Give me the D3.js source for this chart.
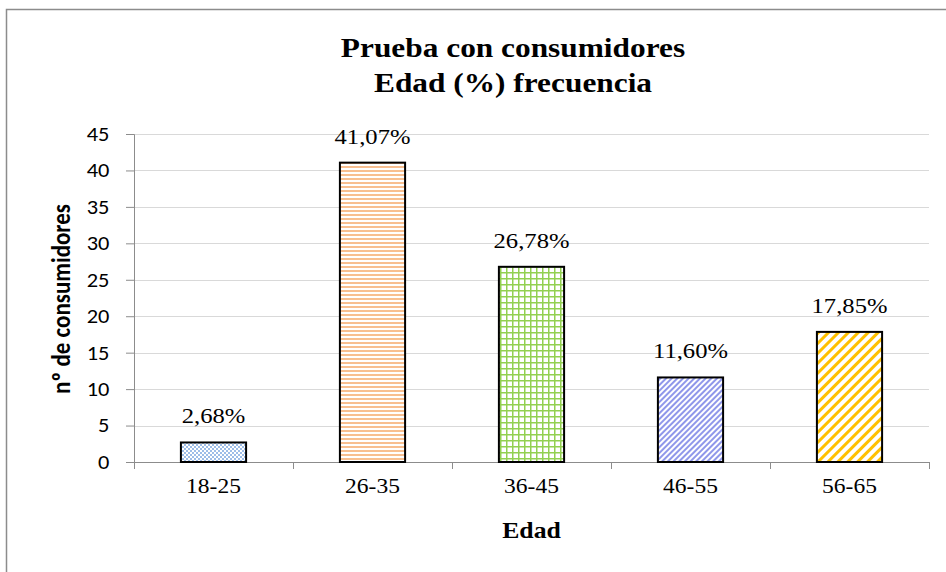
<!DOCTYPE html>
<html>
<head>
<meta charset="utf-8">
<script src="https://cdn.jsdelivr.net/npm/d3@7"></script>
<style>
  body { margin: 0; background: #fff; }
</style>
</head>
<body>
<svg width="946" height="572"></svg>
<script>
// data
var categories = ["18-25", "26-35", "36-45", "46-55", "56-65"];
var values = [2.68, 41.07, 26.78, 11.60, 17.85];
var valueLabels = ["2,68%", "41,07%", "26,78%", "11,60%", "17,85%"];
var yTicks = [0, 5, 10, 15, 20, 25, 30, 35, 40, 45];

var svg = d3.select("svg"),
    margin = {top: 134, right: 17, bottom: 110, left: 134},
    width = +svg.attr("width") - margin.left - margin.right,
    height = +svg.attr("height") - margin.top - margin.bottom;

var SERIF = "Liberation Serif",
    SANS = "Carlito",
    sx = 1.12; // the picture is a bit wider than tall

// outer frame (runs off right and bottom)
svg.append("rect")
    .attr("x", 6.5).attr("y", 9.5)
    .attr("width", 960).attr("height", 600)
    .attr("fill", "none")
    .attr("stroke", "#8c8c8c")
    .attr("stroke-width", 1.5);

// patterns
var defs = svg.append("defs");

var p0 = defs.append("pattern").attr("id", "p0")
    .attr("patternUnits", "userSpaceOnUse").attr("width", 4).attr("height", 4);
p0.append("rect").attr("width", 4).attr("height", 4).attr("fill", "#fff");
p0.append("rect").attr("width", 2).attr("height", 2).attr("fill", "#9dbde8");
p0.append("rect").attr("x", 2).attr("y", 2).attr("width", 2).attr("height", 2).attr("fill", "#9dbde8");

var p1 = defs.append("pattern").attr("id", "p1")
    .attr("patternUnits", "userSpaceOnUse").attr("width", 4).attr("height", 4);
p1.append("rect").attr("width", 4).attr("height", 4).attr("fill", "#fff");
p1.append("rect").attr("width", 4).attr("height", 2).attr("fill", "#f8bf90");

var p2 = defs.append("pattern").attr("id", "p2")
    .attr("patternUnits", "userSpaceOnUse").attr("width", 6).attr("height", 6);
p2.append("rect").attr("width", 6).attr("height", 6).attr("fill", "#fff");
p2.append("rect").attr("width", 6).attr("height", 1.5).attr("fill", "#92d050");
p2.append("rect").attr("width", 1.5).attr("height", 6).attr("fill", "#92d050");

var p3 = defs.append("pattern").attr("id", "p3")
    .attr("patternUnits", "userSpaceOnUse").attr("width", 4).attr("height", 4)
    .attr("patternTransform", "rotate(45)");
p3.append("rect").attr("width", 4).attr("height", 4).attr("fill", "#fff");
p3.append("rect").attr("width", 2).attr("height", 4).attr("fill", "#8f97ea");

var p4 = defs.append("pattern").attr("id", "p4")
    .attr("patternUnits", "userSpaceOnUse").attr("width", 7).attr("height", 7)
    .attr("patternTransform", "rotate(45)");
p4.append("rect").attr("width", 7).attr("height", 7).attr("fill", "#fff");
p4.append("rect").attr("width", 3).attr("height", 7).attr("fill", "#ffc000");

var fills = ["url(#p0)", "url(#p1)", "url(#p2)", "url(#p3)", "url(#p4)"];

// scales
var x = d3.scaleBand()
    .domain(categories)
    .range([0, width])
    .paddingInner(0.59)
    .paddingOuter(0.295);

var y = d3.scaleLinear()
    .domain([0, 45])
    .range([height, 0]);

var g = svg.append("g")
    .attr("transform", "translate(" + margin.left + "," + margin.top + ")");

// gridlines
g.append("g")
    .selectAll("line")
    .data(yTicks.slice(1))
    .enter().append("line")
    .attr("x1", 0).attr("x2", width)
    .attr("y1", function(d) { return Math.round(y(d)) + 0.5; })
    .attr("y2", function(d) { return Math.round(y(d)) + 0.5; })
    .attr("stroke", "#d9d9d9")
    .attr("stroke-width", 1);

// y axis
var yAxis = g.append("g")
    .call(d3.axisLeft(y).tickValues(yTicks).tickSize(8).tickPadding(14));
yAxis.select(".domain").attr("stroke", "#8c8c8c");
yAxis.selectAll(".tick line").attr("stroke", "#8c8c8c");
yAxis.selectAll("text")
    .attr("font-family", SANS)
    .attr("font-size", 20)
    .attr("fill", "#000")
    .attr("transform", "scale(" + sx + ",1)");

// x axis
var xAxis = g.append("g")
    .attr("transform", "translate(0," + height + ")")
    .call(d3.axisBottom(x).tickSize(0).tickPadding(16));
xAxis.select(".domain").attr("stroke", "#8c8c8c");
xAxis.selectAll("text")
    .attr("font-family", SERIF)
    .attr("font-size", 21)
    .attr("fill", "#000")
    .attr("transform", "scale(" + sx + ",1)");

// boundary ticks between categories
var step = x.step();
xAxis.append("g")
    .selectAll("line")
    .data(d3.range(categories.length + 1))
    .enter().append("line")
    .attr("x1", function(i) { return Math.round(i * step) + 0.5; })
    .attr("x2", function(i) { return Math.round(i * step) + 0.5; })
    .attr("y1", 0).attr("y2", 7)
    .attr("stroke", "#8c8c8c");

// bars
g.append("g")
    .selectAll("rect")
    .data(values)
    .enter().append("rect")
    .attr("x", function(d, i) { return x(categories[i]); })
    .attr("y", function(d) { return y(d); })
    .attr("width", x.bandwidth())
    .attr("height", function(d) { return height - y(d); })
    .attr("fill", function(d, i) { return fills[i]; })
    .attr("stroke", "#000")
    .attr("stroke-width", 2);

// value labels
g.append("g")
    .selectAll("text")
    .data(values)
    .enter().append("text")
    .attr("transform", function(d, i) {
        return "translate(" + (x(categories[i]) + x.bandwidth() / 2) + "," + (y(d) - 19) + ") scale(" + sx + ",1)";
    })
    .attr("font-family", SERIF)
    .attr("font-size", 22)
    .attr("text-anchor", "middle")
    .text(function(d, i) { return valueLabels[i]; });

// title
svg.append("text")
    .attr("transform", "translate(513,57) scale(" + sx + ",1)")
    .attr("font-family", SERIF)
    .attr("font-size", 28)
    .attr("font-weight", "bold")
    .attr("text-anchor", "middle")
    .text("Prueba con consumidores");
svg.append("text")
    .attr("transform", "translate(513,92) scale(" + sx + ",1)")
    .attr("font-family", SERIF)
    .attr("font-size", 28)
    .attr("font-weight", "bold")
    .attr("text-anchor", "middle")
    .text("Edad (%) frecuencia");

// axis titles
svg.append("text")
    .attr("transform", "translate(" + (margin.left + width / 2) + ",538) scale(" + sx + ",1)")
    .attr("text-anchor", "middle")
    .attr("font-family", SERIF)
    .attr("font-size", 23)
    .attr("font-weight", "bold")
    .text("Edad");

svg.append("text")
    .attr("transform", "translate(70,299) rotate(-90) scale(1," + sx + ")")
    .attr("text-anchor", "middle")
    .attr("font-family", SANS)
    .attr("font-size", 23)
    .attr("font-weight", "bold")
    .text("nº de consumidores");
</script>
</body>
</html>
